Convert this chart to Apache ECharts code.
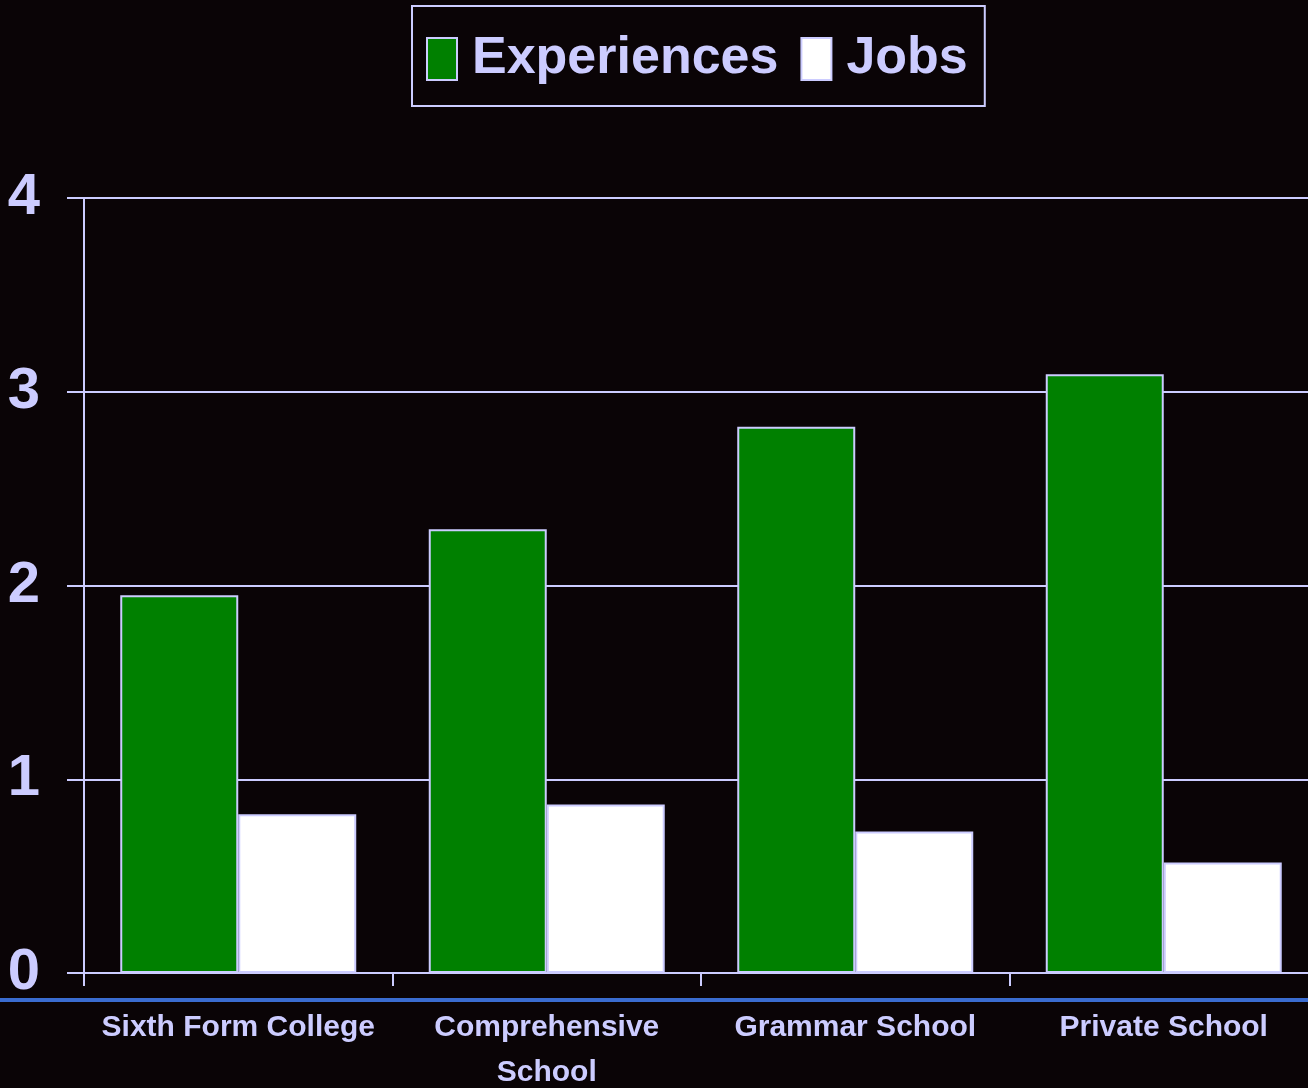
<!DOCTYPE html>
<html>
<head>
<meta charset="utf-8">
<script src="https://cdn.jsdelivr.net/npm/echarts@6/dist/echarts.min.js"></script>
<style>
html,body{margin:0;padding:0;background:#0a0406;}
#chart{width:1308px;height:1088px;}
</style>
</head>
<body>
<div id="chart"></div>
<script>
var categories = ['Sixth Form College', 'Comprehensive\nSchool', 'Grammar School', 'Private School'];
var experiences = [1.95, 2.29, 2.82, 3.09];
var jobs = [0.82, 0.87, 0.73, 0.57];
var yTicks = [0, 1, 2, 3, 4];

var fontFam = "'Liberation Sans Narrow', 'Arial Narrow', 'Liberation Sans', Arial, sans-serif";
var lav = '#ccccff';

var myChart = echarts.init(document.getElementById('chart'));
var option = {
    backgroundColor: '#0a0406',
    animation: false,
    legend: {
        top: 6,
        left: 412,
        padding: [27, 17, 21, 14],
        borderColor: lav,
        borderWidth: 2,
        itemWidth: 30,
        itemHeight: 42,
        itemGap: 22,
        icon: 'rect',
        textStyle: {
            color: lav,
            fontSize: 52,
            lineHeight: 50,
            fontWeight: 'bold',
            fontFamily: fontFam,
            padding: [0, 0, 0, 10]
        },
        data: ['Experiences', 'Jobs']
    },
    grid: {
        top: 198,
        bottom: 115,
        left: 84,
        right: -10,
        outerBoundsMode: 'none',
        containLabel: false
    },
    xAxis: {
        type: 'category',
        data: categories,
        axisLine: {lineStyle: {color: lav, width: 2}},
        axisTick: {show: true, length: 13, lineStyle: {color: lav, width: 2}},
        axisLabel: {
            color: lav,
            fontSize: 30,
            fontWeight: 'bold',
            fontFamily: fontFam,
            margin: 32,
            lineHeight: 45,
            interval: 0
        }
    },
    yAxis: {
        type: 'value',
        min: yTicks[0],
        max: yTicks[yTicks.length - 1],
        interval: 1,
        axisLine: {show: true, lineStyle: {color: lav, width: 2}},
        axisTick: {show: true, length: 17, lineStyle: {color: lav, width: 2}},
        splitLine: {show: true, lineStyle: {color: lav, width: 2}},
        axisLabel: {
            color: lav,
            fontSize: 58,
            fontWeight: 'bold',
            fontFamily: fontFam,
            margin: 44
        }
    },
    graphic: [{
        type: 'rect',
        left: 0,
        top: 998,
        shape: {width: 1308, height: 4},
        style: {fill: '#3a6cd0'},
        z: 0
    }],
    series: [
        {
            name: 'Experiences',
            type: 'bar',
            data: experiences,
            barWidth: 118,
            barGap: '0%',
            itemStyle: {color: '#008000', borderColor: lav, borderWidth: 2}
        },
        {
            name: 'Jobs',
            type: 'bar',
            data: jobs,
            barWidth: 118,
            barGap: '0%',
            itemStyle: {color: '#ffffff', borderColor: lav, borderWidth: 2}
        }
    ]
};
myChart.setOption(option);
window.addEventListener('resize', function () {
    myChart.resize();
});
</script>
</body>
</html>
